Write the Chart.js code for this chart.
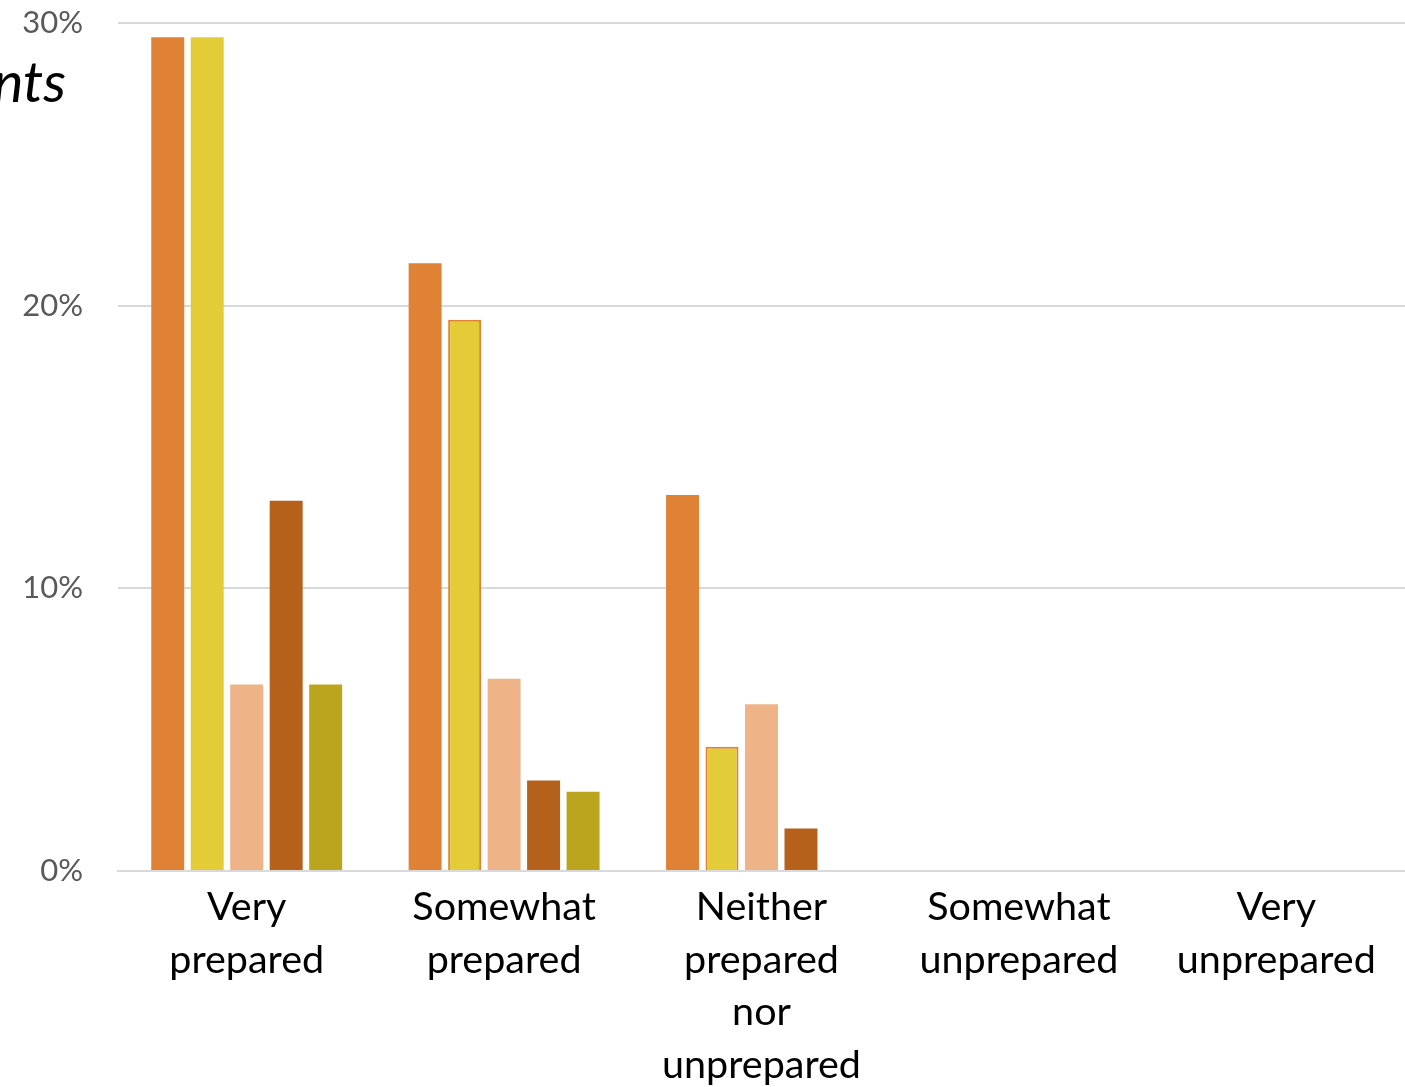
<!DOCTYPE html>
<html>
<head>
<meta charset="utf-8">
<script src="https://cdn.jsdelivr.net/npm/chart.js@4/dist/chart.umd.min.js"></script>
<style>
    html, body { margin: 0; padding: 0; background: #fff; overflow: hidden; }
    #wrap { width: 1405px; height: 1087px; position: relative; }
</style>
</head>
<body>
<div id="wrap"><canvas id="preparedGraph"></canvas></div>
<script>
const categories = [
    ['Very', 'prepared'],
    ['Somewhat', 'prepared'],
    ['Neither', 'prepared', 'nor', 'unprepared'],
    ['Somewhat', 'unprepared'],
    ['Very', 'unprepared']
];
const seriesNames = ['Series 1', 'Series 2', 'Series 3', 'Series 4', 'Series 5'];
const series1 = [29.5, 21.5, 13.3, 0, 0];
const series2 = [29.5, 19.5, 4.4, 0, 0];
const series3 = [6.6, 6.8, 5.9, 0, 0];
const series4 = [13.1, 3.2, 1.5, 0, 0];
const series5 = [6.6, 2.8, 0, 0, 0];
const yTicks = [0, 10, 20, 30];
const titleFragment = 'nts';

// leftover piece of the cut off title
const titlePiece = {
    id: 'titlePiece',
    afterDraw(chart) {
        const ctx = chart.ctx;
        ctx.save();
        ctx.font = 'italic 57px Lato';
        ctx.fillStyle = '#000';
        ctx.textAlign = 'right';
        ctx.textBaseline = 'alphabetic';
        ctx.fillText(titleFragment, 66, 102);
        ctx.restore();
    }
};

function drawPreparedGraph() {
    const preparedGraph = document.getElementById('preparedGraph');

    new Chart(preparedGraph, {
        type: 'bar',
        data: {
            labels: categories,
            datasets: [
                { label: seriesNames[0], data: series1, backgroundColor: '#E08236', borderWidth: 0 },
                {
                    label: seriesNames[1], data: series2, backgroundColor: '#E3CC38',
                    borderColor: '#E08236',
                    borderWidth: [0, 2, 2, 0, 0]
                },
                { label: seriesNames[2], data: series3, backgroundColor: '#EEB488', borderWidth: 0 },
                { label: seriesNames[3], data: series4, backgroundColor: '#B5611C', borderWidth: 0 },
                { label: seriesNames[4], data: series5, backgroundColor: '#BBA51E', borderWidth: 0 }
            ]
        },
        options: {
            responsive: true,
            maintainAspectRatio: false,
            animation: false,
            categoryPercentage: 0.767,
            barPercentage: 0.835,
            layout: { padding: { top: 23, right: 0, left: 0, bottom: 0 } },
            plugins: {
                legend: { display: false },
                tooltip: { enabled: false }
            },
            scales: {
                x: {
                    grid: { display: false, drawTicks: false },
                    border: { display: true, color: '#D9D9D9', width: 2 },
                    ticks: {
                        color: '#000',
                        font: { family: 'Lato', size: 39.5, lineHeight: 1.33 },
                        padding: 10,
                        maxRotation: 0,
                        autoSkip: false
                    },
                    afterFit: function (scale) { scale.height = 216; }
                },
                y: {
                    min: 0,
                    max: 30,
                    afterBuildTicks: function (scale) {
                        scale.ticks = yTicks.map(v => ({ value: v }));
                    },
                    grid: { color: '#D9D9D9', lineWidth: 2, drawTicks: false },
                    border: { display: false },
                    ticks: {
                        color: '#595959',
                        font: { family: 'Lato', size: 31 },
                        padding: 35,
                        callback: v => v + '%'
                    },
                    afterFit: function (scale) {
                        scale.width = 118;
                        scale.paddingTop = 0;
                        scale.paddingBottom = 0;
                    }
                }
            }
        },
        plugins: [titlePiece]
    });
}

drawPreparedGraph();
</script>
</body>
</html>
